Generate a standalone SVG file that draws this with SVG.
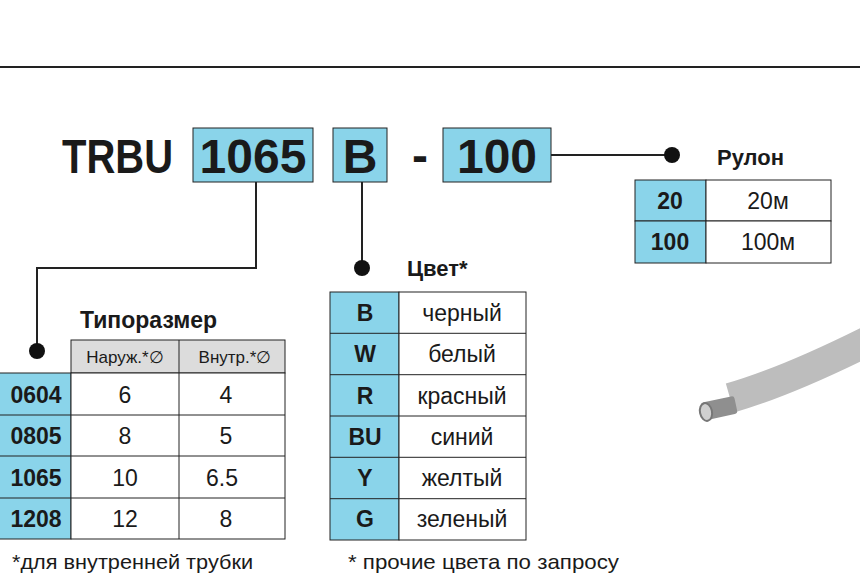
<svg xmlns="http://www.w3.org/2000/svg" width="860" height="578" viewBox="0 0 860 578">
<style>
text{font-family:"Liberation Sans",Arial,sans-serif;fill:#1a1a1a}
.b{font-weight:bold}
.c{fill:#8ad4ea;stroke:#222;stroke-width:1}
.w{fill:#fff;stroke:#222;stroke-width:1}
.g{fill:#dcdcdc;stroke:#222;stroke-width:1}
.ln{stroke:#222;stroke-width:2;fill:none}
.cell{font-size:23px;text-anchor:middle}
.key{font-size:23px;font-weight:bold;text-anchor:middle}
</style>
<rect width="860" height="578" fill="#fff"/>
<line x1="0" y1="67" x2="860" y2="67" stroke="#222" stroke-width="2"/>
<g id="code">
<text x="62" y="173" class="b" font-size="48" textLength="111" lengthAdjust="spacingAndGlyphs">TRBU</text>
<rect class="c" x="193" y="128" width="120" height="54"/>
<text x="253" y="173" class="b" font-size="48" text-anchor="middle">1065</text>
<rect class="c" x="333" y="128" width="54" height="54"/>
<text x="360" y="173" class="b" font-size="48" text-anchor="middle">B</text>
<text x="420" y="172" class="b" font-size="48" text-anchor="middle">-</text>
<rect class="c" x="443" y="128" width="108" height="54"/>
<text x="497" y="173" class="b" font-size="48" text-anchor="middle">100</text>
</g>
<g id="connectors">
<path class="ln" d="M551 155H672"/>
<circle cx="672" cy="155" r="8" fill="#111"/>
<path class="ln" d="M256 182V268H37V350"/>
<circle cx="37" cy="351" r="8" fill="#111"/>
<path class="ln" d="M362 182V268"/>
<circle cx="362" cy="268" r="8" fill="#111"/>
</g>
<g id="rulon">
<text x="717" y="165" class="b" font-size="22">Рулон</text>
<rect class="c" x="635" y="180" width="71" height="41"/><rect class="w" x="706" y="180" width="125" height="41"/>
<rect class="c" x="635" y="221" width="71" height="42"/><rect class="w" x="706" y="221" width="125" height="42"/>
<text class="key" x="670" y="209">20</text><text class="cell" x="768" y="209">20м</text>
<text class="key" x="670" y="250">100</text><text class="cell" x="768" y="250">100м</text>
</g>
<g id="color">
<text x="407" y="276" class="b" font-size="22">Цвет*</text>
<rect class="c" x="330" y="292" width="69" height="248"/>
<rect class="w" x="399" y="292" width="127" height="248"/>
<path stroke="#222" d="M330 333.3H526M330 374.7H526M330 416H526M330 457.3H526M330 498.7H526"/>
<text class="key" x="365" y="321">B</text><text class="cell" x="462" y="321">черный</text>
<text class="key" x="365" y="362">W</text><text class="cell" x="462" y="362">белый</text>
<text class="key" x="365" y="404">R</text><text class="cell" x="462" y="404">красный</text>
<text class="key" x="365" y="445">BU</text><text class="cell" x="462" y="445">синий</text>
<text class="key" x="365" y="486">Y</text><text class="cell" x="462" y="486">желтый</text>
<text class="key" x="365" y="527">G</text><text class="cell" x="462" y="527">зеленый</text>
</g>
<g id="size">
<text x="80" y="328" class="b" font-size="23">Типоразмер</text>
<rect class="g" x="71" y="340" width="214" height="33"/>
<path stroke="#222" d="M179 340V373"/>
<text x="125" y="363" font-size="17" text-anchor="middle">Наруж.*∅</text>
<text x="235" y="363" font-size="17" text-anchor="middle">Внутр.*∅</text>
<rect class="c" x="-1" y="373" width="72" height="166"/>
<rect class="w" x="71" y="373" width="214" height="166"/>
<path stroke="#222" d="M179 373V539M0 415H285M0 456H285M0 498H285"/>
<text class="key" x="36" y="403">0604</text><text class="cell" x="125" y="403">6</text><text class="cell" x="226" y="403">4</text>
<text class="key" x="36" y="444">0805</text><text class="cell" x="125" y="444">8</text><text class="cell" x="226" y="444">5</text>
<text class="key" x="36" y="486">1065</text><text class="cell" x="125" y="486">10</text><text class="cell" x="222" y="486">6.5</text>
<text class="key" x="36" y="527">1208</text><text class="cell" x="125" y="527">12</text><text class="cell" x="226" y="527">8</text>
</g>
<text x="12" y="569" font-size="21" textLength="241" lengthAdjust="spacingAndGlyphs">*для внутренней трубки</text>
<text x="348" y="569" font-size="21" textLength="271" lengthAdjust="spacingAndGlyphs">* прочие цвета по запросу</text>
<g id="tube">
<path d="M730 398C775 385 820 365 870 340" stroke="#bdbdbd" stroke-width="30" fill="none"/>
<rect x="702" y="399" width="34" height="18" rx="3" fill="#8f8f8f" transform="rotate(-12 720 407)"/>
<ellipse cx="706" cy="412" rx="6" ry="9" fill="#d0d0d0" stroke="#777" stroke-width="2" transform="rotate(-12 706 412)"/>
</g>
</svg>
